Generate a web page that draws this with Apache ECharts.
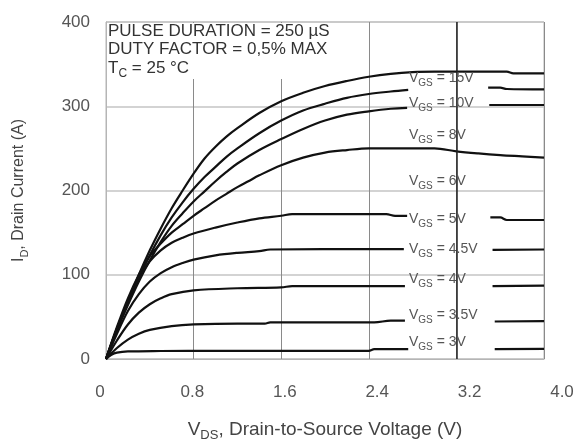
<!DOCTYPE html>
<html><head><meta charset="utf-8">
<script src="https://cdn.jsdelivr.net/npm/echarts/dist/echarts.min.js"></script>
<style>html,body{margin:0;padding:0;background:#fff}#c{width:579px;height:447px}</style>
</head><body><div id="c"></div>
<script>
// ---- data ----
const xTickLabels = ['0', '0.8', '1.6', '2.4', '3.2', '4.0'];
const yTickLabels = ['0', '100', '200', '300', '400'];
const vgsNames = ['15V', '10V', '8V', '6V', '5V', '4.5V', '4V', '3.5V', '3V'];

const vds15 = [0, 0.1, 0.2, 0.3, 0.4, 0.5, 0.6, 0.7, 0.8, 0.9, 1.0, 1.1, 1.2, 1.4, 1.6, 1.8, 2.0, 2.2, 2.4, 2.6, 2.8, 3.0, 3.66, 3.72, 4.0];
const id15  = [0, 36, 68, 100, 129, 155, 179, 200, 220, 238, 252, 264, 274, 292, 306, 316, 324, 330, 335, 338.5, 340.5, 341, 341, 339, 339];

const vds10 = [0, 0.1, 0.2, 0.3, 0.4, 0.5, 0.6, 0.7, 0.8, 0.9, 1.0, 1.1, 1.2, 1.4, 1.6, 1.8, 2.0, 2.2, 2.4, 2.6, 2.76, 3.1, 3.49, 3.6, 3.66, 4.0];
const id10  = [0, 35, 66, 96, 123, 147, 168, 186, 202, 216, 228, 240, 250, 268, 283, 295, 303, 310, 314.5, 317.5, 319.5, null, 322, 322, 320.5, 320];

const vds8 = [0, 0.1, 0.2, 0.3, 0.4, 0.5, 0.6, 0.7, 0.8, 0.9, 1.0, 1.1, 1.2, 1.4, 1.6, 1.8, 2.0, 2.2, 2.4, 2.6, 2.75, 3.1, 3.5, 4.0];
const id8  = [0, 34, 64, 92, 117, 139, 158, 173, 187, 199, 211, 222, 232, 248, 261, 273, 283, 290, 294, 297, 298, null, 301.5, 301.5];

const vds6 = [0, 0.1, 0.2, 0.3, 0.4, 0.5, 0.6, 0.7, 0.8, 0.9, 1.0, 1.1, 1.2, 1.3, 1.4, 1.6, 1.8, 2.0, 2.2, 2.4, 3.0, 3.2, 3.4, 3.6, 3.8, 4.0];
const id6  = [0, 38, 72, 100, 122, 137, 150, 160, 170, 179, 188, 196, 204, 211, 218, 230, 239, 245, 248, 250, 250, 246.5, 244, 242, 240.5, 239];

const vds5 = [0, 0.1, 0.2, 0.3, 0.4, 0.5, 0.6, 0.7, 0.8, 1.0, 1.2, 1.4, 1.6, 1.7, 2.56, 2.64, 2.75, 3.1, 3.51, 3.6, 3.66, 4.0];
const id5  = [0, 36, 68, 96, 116, 129, 138, 144, 149, 156, 162, 167, 170, 172, 172, 170, 170, null, 168, 168, 165, 165];

const vds45 = [0, 0.1, 0.2, 0.3, 0.4, 0.5, 0.6, 0.7, 0.8, 1.0, 1.2, 1.4, 1.5, 2.72, 3.1, 3.53, 4.0];
const id45  = [0, 30, 57, 77, 92, 102, 109, 114, 118, 123, 126, 128, 130, 130.5, null, 129.5, 130];

const vds4 = [0, 0.1, 0.2, 0.3, 0.4, 0.5, 0.6, 0.8, 1.2, 1.6, 1.7, 2.73, 3.1, 3.53, 4.0];
const id4  = [0, 22, 41, 55, 65, 72, 77, 81.5, 84, 85, 86.5, 86.5, null, 86.5, 87];

const vds35 = [0, 0.1, 0.2, 0.3, 0.4, 0.6, 0.8, 1.2, 1.45, 1.5, 2.45, 2.6, 2.73, 3.1, 3.55, 4.0];
const id35  = [0, 13, 23, 30, 34.5, 39, 41, 42, 42, 43.5, 43.5, 45.5, 45.5, null, 44.5, 45];

const vds3 = [0, 0.05, 0.1, 0.2, 0.5, 1.0, 1.6, 2.4, 2.45, 2.76, 3.1, 3.55, 4.0];
const id3  = [0, 5, 7.5, 9, 9.5, 9.7, 9.7, 9.7, 11.7, 11.7, null, 11.7, 12];

const darkGridAt = 3.2;

// ---- layout / styles ----
const FONT = '"Liberation Sans", Arial, sans-serif';
const curves = [
  [vds15, id15], [vds10, id10], [vds8, id8], [vds6, id6], [vds5, id5],
  [vds45, id45], [vds4, id4], [vds35, id35], [vds3, id3]
];
const labelLeft = 409;
const labelTops = [81, 106, 138, 184, 222, 252, 282, 318, 345];

const chart = echarts.init(document.getElementById('c'), null, {renderer: 'canvas'});

const series = curves.map(([xs, ys], k) => ({
  type: 'line',
  name: 'VGS = ' + vgsNames[k],
  xAxisIndex: 0, yAxisIndex: 0,
  data: xs.map((x, j) => [x, ys[j]]),
  symbol: 'none', showSymbol: false,
  smooth: 0.35,
  connectNulls: false,
  lineStyle: {color: '#111', width: 2.2},
  z: 3,
  markLine: k === 0 ? {
    silent: true, symbol: ['none', 'none'], label: {show: false},
    lineStyle: {color: '#222', width: 1.5, type: 'solid'},
    data: [{xAxis: darkGridAt}]
  } : undefined
}));

function sub(main, s, rest) {
  return '{m|' + main + '}{s|' + s + '}{m|' + rest + '}';
}
function richFor(size, color) {
  const ss = Math.round(size * 0.68);
  return {
    m: {fontSize: size, fontFamily: FONT, color: color, fill: color, lineHeight: size + 6, verticalAlign: 'middle'},
    s: {fontSize: ss, fontFamily: FONT, color: color, fill: color, lineHeight: ss + 1, verticalAlign: 'bottom'}
  };
}

const graphics = [
  {type: 'rect', left: 107, top: 23, shape: {width: 228, height: 56}, style: {fill: '#fff'}, z: 10},
  {type: 'text', left: 108, top: 23, z: 11, style: {text: 'PULSE DURATION = 250 µS', font: '17px ' + FONT, fill: '#333'}},
  {type: 'text', left: 108, top: 41, z: 11, style: {text: 'DUTY FACTOR = 0,5% MAX', font: '17px ' + FONT, fill: '#333'}},
  {type: 'text', left: 108, top: 60, z: 11, style: {text: sub('T', 'C', ' = 25 °C'), rich: richFor(17, '#333')}}
];
vgsNames.forEach((n, k) => {
  graphics.push({type: 'text', left: labelLeft, top: labelTops[k] - 10, z: 11,
    style: {text: sub('V', 'GS', ' = ' + n), rich: richFor(14, '#555')}});
});

chart.setOption({
  animation: false,
  backgroundColor: '#fff',
  grid: [
    {left: 106, right: 35, top: 22, bottom: 83, show: true, borderColor: '#b5b5b5', borderWidth: 1},
    {left: 100, right: 17, top: 22, bottom: 83, show: false}
  ],
  xAxis: [
    {type: 'value', gridIndex: 0, min: 0, max: 4, interval: 0.8,
     axisLine: {show: true, lineStyle: {color: '#b5b5b5'}}, axisTick: {show: false},
     axisLabel: {show: false},
     splitLine: {show: true, lineStyle: {color: '#8a8a8a', width: 1}},
     name: sub('V', 'DS', ', Drain-to-Source Voltage (V)'),
     nameLocation: 'middle', nameGap: 58,
     nameTextStyle: {rich: richFor(19, '#444')}},
    {type: 'value', gridIndex: 1, min: 0, max: 4, interval: 0.8,
     axisLine: {show: false}, axisTick: {show: false}, splitLine: {show: false},
     axisLabel: {show: true, margin: 20, fontSize: 17, fontFamily: FONT, color: '#555',
       formatter: (v) => xTickLabels[Math.round(v / 0.8)] ?? ''}}
  ],
  yAxis: [
    {type: 'value', gridIndex: 0, min: 0, max: 400, interval: 100,
     axisLine: {show: true, lineStyle: {color: '#b5b5b5'}}, axisTick: {show: false},
     axisLabel: {margin: 16, fontSize: 17, fontFamily: FONT, color: '#555',
       formatter: (v) => yTickLabels[Math.round(v / 100)] ?? ''},
     splitLine: {show: true, lineStyle: {color: '#c4c4c4', width: 1.5}},
     name: sub('I', 'D', ', Drain Current (A)'),
     nameLocation: 'middle', nameRotate: 90, nameGap: 76,
     nameTextStyle: {rich: richFor(16, '#444')}},
    {type: 'value', gridIndex: 1, show: false, min: 0, max: 400}
  ],
  graphic: graphics,
  series: series
});
</script></body></html>
